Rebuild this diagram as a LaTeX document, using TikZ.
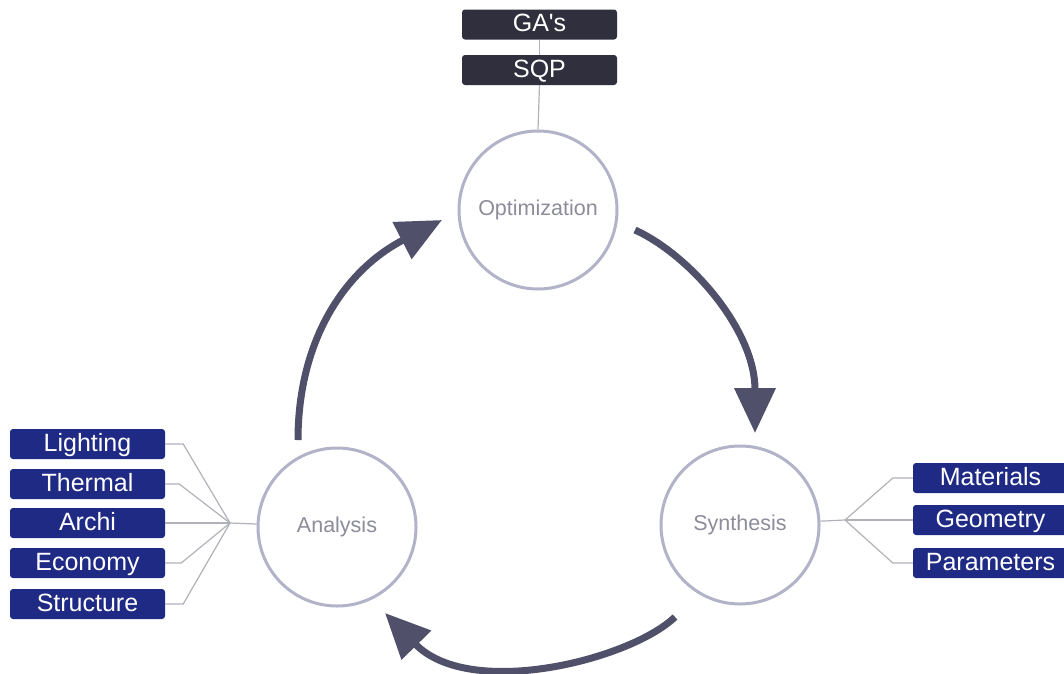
\documentclass[tikz,border=0pt]{standalone}
\usepackage{fontspec}
\setmainfont{Liberation Sans}
\usetikzlibrary{arrows.meta}
\definecolor{darkbox}{HTML}{2F2F3E}
\definecolor{bluebox}{HTML}{1F2A85}
\definecolor{arrowc}{HTML}{50506A}
\definecolor{ringc}{HTML}{B2B2C8}
\definecolor{ringtext}{HTML}{8C8C9A}
\definecolor{linkc}{HTML}{B2B2BA}
\begin{document}
\begin{tikzpicture}[x=1pt,y=-1pt,
 tag/.style={rounded corners=3pt, minimum width=155pt, minimum height=30pt, inner sep=0pt,
   text height=18pt, text depth=4pt, text=white, font=\fontsize{25}{25}\selectfont},
 darktag/.style={tag, fill=darkbox},
 bluetag/.style={tag, fill=bluebox},
 stage/.style={circle, draw=ringc, line width=3pt, minimum size=158pt, inner sep=0pt,
   text=ringtext, font=\fontsize{21.5}{21.5}\selectfont},
 link/.style={draw=linkc, line width=1.2pt},
 flow/.style={draw=arrowc, line width=7pt, -{Triangle[width=40pt,length=45pt]}}
]
\useasboundingbox (0,0) rectangle (1064,673);
\fill[white] (0,0) rectangle (1064,673);

% stages
\node[stage] (opt) at (538,210) {Optimization};
\node[stage] (ana) at (337,527) {Analysis};
\node[stage] (syn) at (740,525) {Synthesis};

% top tags
\node[darktag] (ga) at (539.5,24.5) {GA\textquotesingle s};
\node[darktag] (sqp) at (539.5,70) {SQP};
\draw[link] (ga.south) -- (sqp.north);
\draw[link] (sqp.south) -- (opt.north);

% left tags
\node[bluetag] (light) at (87.5,444) {Lighting};
\node[bluetag] (therm) at (87.5,484) {Thermal};
\node[bluetag] (archi) at (87.5,523) {Archi};
\node[bluetag] (econ) at (87.5,563) {Economy};
\node[bluetag] (struc) at (87.5,604) {Structure};
\coordinate (lhub) at (230,523);
\draw[link] (light.east) -- ++(18,0) -- (lhub);
\draw[link] (therm.east) -- ++(14,0) -- (lhub);
\draw[link] (archi.east) -- (lhub);
\draw[link] (econ.east) -- ++(16,0) -- (lhub);
\draw[link] (struc.east) -- ++(18,0) -- (lhub);
\draw[link] (lhub) -- (ana);

% right tags
\node[bluetag] (mat) at (990.5,478) {Materials};
\node[bluetag] (geo) at (990.5,520) {Geometry};
\node[bluetag] (par) at (990.5,563) {Parameters};
\coordinate (rhub) at (845,520);
\draw[link] (mat.west) -- ++(-20,0) -- (rhub);
\draw[link] (geo.west) -- (rhub);
\draw[link] (par.west) -- ++(-20,0) -- (rhub);
\draw[link] (rhub) -- (syn);

% cycle arrows
\coordinate (a1s) at (298,440);
\coordinate (a1e) at (442,220);
\coordinate (a2s) at (635,230);
\coordinate (a2e) at (755,433);
\coordinate (a3s) at (675,617);
\coordinate (a3e) at (385,613);
\draw[flow] (a1s) .. controls (298,340) and (345,270) .. (a1e);
\draw[flow] (a2s) .. controls (690,255) and (755,330) .. (a2e);
\draw[flow] (a3s) .. controls (630,660) and (470,700) .. (a3e);
\end{tikzpicture}
\end{document}
